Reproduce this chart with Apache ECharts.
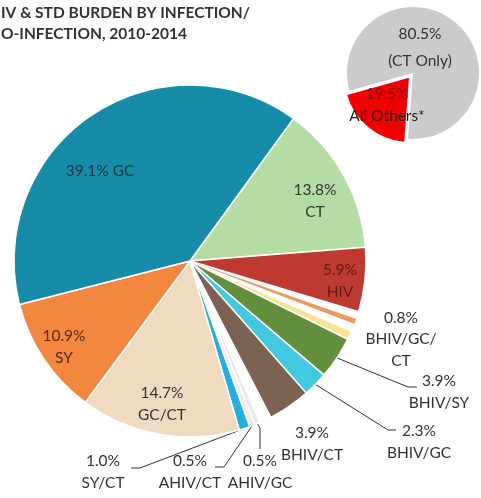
<!DOCTYPE html>
<html>
<head>
<meta charset="utf-8">
<script src="https://cdn.jsdelivr.net/npm/echarts@6/dist/echarts.min.js"></script>
<style>
  html,body{margin:0;padding:0;background:#fff;}
  #main{width:481px;height:498px;}
</style>
</head>
<body>
<div id="main"></div>
<script>
// main pie, clockwise from the GC/CT boundary; '' entries are the white gaps in the picture
const sliceNames  = ['CT','HIV','','','','BHIV/GC/CT','BHIV/SY','BHIV/GC','BHIV/CT','','AHIV/GC','AHIV/CT','SY/CT','GC/CT','SY','GC'];
const sliceValues = [13.8, 5.9, 0.7, 0.5, 0.7, 0.8, 3.9, 2.3, 3.9, 1.1, 0.5, 0.5, 1.0, 14.7, 10.9, 39.1];
const sliceColors = ['#b5dca5','#be3a30','#ffffff','#eb9a5f','#ffffff','#f7e38f','#628f3c','#42c9e0','#7b6252','#ffffff','#ece8f0','#f5e9e2','#27aede','#f1dbc0','#f4873f','#178ca8'];
const showLabel   = [1,1,0,0,0,1,1,1,1,0,1,1,1,1,1,1];

// small pie
const smallNames  = ['(CT Only)','All Others*'];
const smallValues = [80.5, 19.5];
const smallColors = ['#cbcbcb','#f00000'];

// where each text block sits, and the bend of its leader line
const labelAt = {
  'CT':[315,201], 'HIV':[340,281], 'BHIV/GC/CT':[401,339], 'BHIV/SY':[439,392],
  'BHIV/GC':[419,442], 'BHIV/CT':[312,444], 'AHIV/GC':[260,472], 'AHIV/CT':[190,472],
  'SY/CT':[103,472], 'GC/CT':[162,404], 'SY':[64,347], 'GC':[100,171]
};
const leader = {
  'BHIV/SY':[[408,387],[417,387]],
  'BHIV/GC':[[388,430],[396,430]],
  'AHIV/GC':[[260,428],[260,449]],
  'AHIV/CT':[[224,467],[215,467]],
  'SY/CT':[[140,468],[131,468]]
};
const darkText = {'GC':'#1c3440','HIV':'#5b1d16','SY':'#5a2a12'};

const font = 'Lato, "Open Sans", sans-serif';

function labelText(name, v){
  if(name === 'GC') return v.toFixed(1) + '% GC';
  if(name === 'BHIV/GC/CT') return v.toFixed(1) + '%\nBHIV/GC/\nCT';
  return v.toFixed(1) + '%\n' + name;
}

const mainData = sliceNames.map((n,i)=>{
  const lbl = !!showLabel[i];
  const outside = lbl && (leader[n] || ['BHIV/GC/CT','BHIV/CT'].includes(n));
  return {
    name: n || ('gap'+i),
    value: sliceValues[i],
    itemStyle: {color: sliceColors[i], borderColor:'#fff', borderWidth: n ? 1.5 : 0},
    label: {show: lbl, position: outside ? 'outside' : 'inside',
            formatter: labelText(n, sliceValues[i]), color: darkText[n] || '#333'},
    labelLine: {show: !!leader[n]}
  };
});

const chart = echarts.init(document.getElementById('main'));
chart.setOption({
  animation:false,
  backgroundColor:'#fff',
  title:{
    text:'IV & STD BURDEN BY INFECTION/\nO-INFECTION, 2010-2014',
    left:1, top:2, padding:0,
    textStyle:{fontFamily:font, fontWeight:'bold', fontSize:15.5, color:'#333', lineHeight:21}
  },
  series:[
    {
      type:'pie',
      silent:true,
      center:[190,261],
      radius:[0,176],
      startAngle:54,
      clockwise:true,
      avoidLabelOverlap:false,
      label:{fontFamily:font, fontSize:15.5, lineHeight:21.5, align:'center'},
      labelLine:{lineStyle:{color:'#333', width:1}, length:5, length2:5},
      labelLayout:function(p){
        const n = sliceNames[p.dataIndex];
        const at = labelAt[n];
        if(!at) return {};
        const out = {x:at[0], y:at[1], align:'center', verticalAlign:'middle'};
        if(leader[n] && p.labelLinePoints){
          out.labelLinePoints = [p.labelLinePoints[0]].concat(leader[n]);
        }
        return out;
      },
      data: mainData
    },
    {
      type:'pie',
      silent:true,
      center:[413,73],
      radius:[0,66],
      startAngle:-164.5,
      clockwise:true,
      selectedMode:'single',
      selectedOffset:5,
      label:{position:'inside', fontFamily:font, fontSize:15.5, lineHeight:21},
      labelLine:{show:false},
      labelLayout:function(p){
        return p.dataIndex === 0
          ? {x:420, y:47, align:'center', verticalAlign:'middle'}
          : {x:390, y:114, align:'center', verticalAlign:'middle'};
      },
      data: smallNames.map((n,i)=>({
        name:n, value:smallValues[i], selected: i===1,
        itemStyle:{color:smallColors[i], borderColor:'#fff', borderWidth: i===1 ? 1.5 : 0},
        labelLine:{show:false},
        label:{formatter: i===0 ? '{a|' + smallValues[i].toFixed(1) + '%}\n{a|' + n + '}'
                                : '{r|' + smallValues[i].toFixed(1) + '%}\n{b|' + n + '}',
               rich:{a:{color:'#333', fontFamily:font, fontSize:15.5, lineHeight:27, align:'center'},
                     b:{color:'#222', fontFamily:font, fontSize:15.5, lineHeight:22, align:'center'},
                     r:{color:'#8a0c0c', fontFamily:font, fontSize:15.5, lineHeight:22, align:'center'}}}
      }))
    }
  ]
});
</script>
</body>
</html>
